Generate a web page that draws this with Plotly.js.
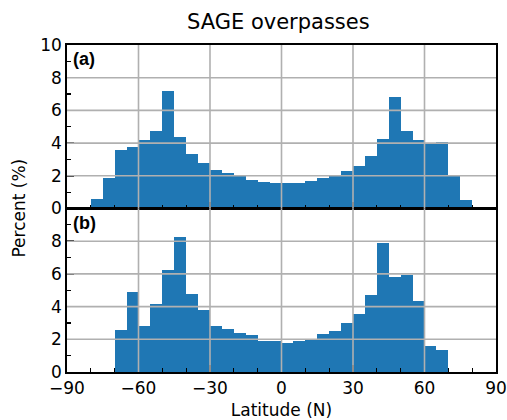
<!DOCTYPE html>
<html>
<head>
<meta charset="utf-8">
<script src="https://cdn.plot.ly/plotly-3.0.1.min.js"></script>
<style>html,body{margin:0;padding:0;background:#fff;}</style>
</head>
<body>
<div id="chart" style="width:507px;height:420px;"></div>
<script>
// 5-degree latitude bins (centres)
const latitudes = [-87.5,-82.5,-77.5,-72.5,-67.5,-62.5,-57.5,-52.5,-47.5,-42.5,-37.5,-32.5,-27.5,-22.5,-17.5,-12.5,-7.5,-2.5,
                   2.5,7.5,12.5,17.5,22.5,27.5,32.5,37.5,42.5,47.5,52.5,57.5,62.5,67.5,72.5,77.5,82.5,87.5];
// (a) percent per bin
const percentA = [0,0,0.57,1.84,3.59,3.79,4.22,4.77,7.17,4.39,3.34,2.77,2.38,2.15,1.97,1.76,1.64,1.56,
                  1.54,1.58,1.70,1.89,2.05,2.30,2.62,3.22,4.26,6.80,4.77,4.16,3.95,4.05,1.97,0.49,0,0];
// (b) percent per bin
const percentB = [0,0,0,0,2.57,4.89,2.79,4.18,6.25,8.23,4.77,3.77,2.79,2.61,2.36,2.24,1.91,1.91,
                  1.79,1.87,1.96,2.30,2.53,2.97,3.54,4.70,7.92,5.82,5.91,4.32,1.59,1.36,0,0,0,0];
const xTicks = [-90,-60,-30,0,30,60,90];
const xTickText = ['\u221290','\u221260','\u221230','0','30','60','90'];
const xMinorTicks = [-80,-70,-50,-40,-20,-10,10,20,40,50,70,80];
const xGrid = [-60,-30,0,30,60];
const yTicksA = [0,2,4,6,8,10];
const yTicksB = [0,2,4,6,8];
const yMinorTicks = [1,3,5,7,9];
const yGrid = [2,4,6,8];
const panelLabels = ['(a)','(b)'];

const barColor = '#1f77b4';
const gridColor = '#b0b0b0';
const font = 'DejaVu Sans, sans-serif';

const traces = [
  {type:'bar', x: latitudes, y: percentA, width: 5, marker:{color: barColor, line:{width:0}}, xaxis:'x', yaxis:'y', hoverinfo:'skip'},
  {type:'bar', x: latitudes, y: percentB, width: 5, marker:{color: barColor, line:{width:0}}, xaxis:'x2', yaxis:'y2', hoverinfo:'skip'}
];

function xAxis(showLabels, anchor) {
  return {
    range:[-90,90], anchor: anchor, tickvals: xTicks, ticktext: xTickText,
    showticklabels: showLabels, ticks:'inside', ticklen:7, tickwidth:1.5, tickcolor:'#000',
    minor:{tickvals: xMinorTicks, ticks:'inside', ticklen:4, tickwidth:1.2, tickcolor:'#000', showgrid:false},
    showgrid:false, zeroline:false, showline:true, linecolor:'#000', linewidth:1.8, mirror:true,
    tickfont:{family:font, size:17, color:'#000'}
  };
}
function yAxis(domain, anchor, ticks) {
  return {
    domain: domain, anchor: anchor, range:[0,10], tickvals: ticks,
    ticks:'inside', ticklen:7, tickwidth:1.5, tickcolor:'#000',
    minor:{tickvals: yMinorTicks, ticks:'inside', ticklen:4, tickwidth:1.2, tickcolor:'#000', showgrid:false},
    showgrid:false, zeroline:false, showline:true, linecolor:'#000', linewidth:1.8, mirror:true,
    tickfont:{family:font, size:17, color:'#000'}
  };
}

const shapes = [];
[['x','y'],['x2','y2']].forEach(([xa,ya]) => {
  xGrid.forEach(v => shapes.push({type:'line', layer:'above', xref:xa, yref:ya+' domain', x0:v, x1:v, y0:0, y1:1, line:{color:gridColor, width:1.6}}));
  yGrid.forEach(v => shapes.push({type:'line', layer:'above', xref:xa+' domain', yref:ya, x0:0, x1:1, y0:v, y1:v, line:{color:gridColor, width:1.6}}));
});

const layout = {
  width:507, height:420,
  margin:{l:67, r:11, t:45, b:48},
  paper_bgcolor:'#fff', plot_bgcolor:'#fff',
  showlegend:false, bargap:0,
  title:{text:'SAGE overpasses', font:{family:font, size:21, color:'#000'}, x:0.549, xanchor:'center', y:0.948, yanchor:'middle'},
  xaxis: xAxis(false,'y'),
  yaxis: yAxis([0.5,1],'x', yTicksA),
  xaxis2: Object.assign(xAxis(true,'y2'), {title:{text:'Latitude (N)', font:{family:font, size:17, color:'#000'}, standoff:7}}),
  yaxis2: yAxis([0,0.5],'x2', yTicksB),
  shapes: shapes,
  annotations: [
    {text:'<b>'+panelLabels[0]+'</b>', xref:'x domain', yref:'y domain', x:0.01, y:0.985, xanchor:'left', yanchor:'top', showarrow:false, font:{family:'Liberation Sans, Arial, sans-serif', size:18, color:'#000'}},
    {text:'<b>'+panelLabels[1]+'</b>', xref:'x2 domain', yref:'y2 domain', x:0.01, y:0.985, xanchor:'left', yanchor:'top', showarrow:false, font:{family:'Liberation Sans, Arial, sans-serif', size:18, color:'#000'}},
    {text:'Percent (%)', xref:'paper', yref:'paper', x:-0.114, y:0.5, xanchor:'center', yanchor:'middle', textangle:-90, showarrow:false, font:{family:font, size:17, color:'#000'}}
  ]
};

Plotly.newPlot('chart', traces, layout, {displayModeBar:false, staticPlot:true});
</script>
</body>
</html>
